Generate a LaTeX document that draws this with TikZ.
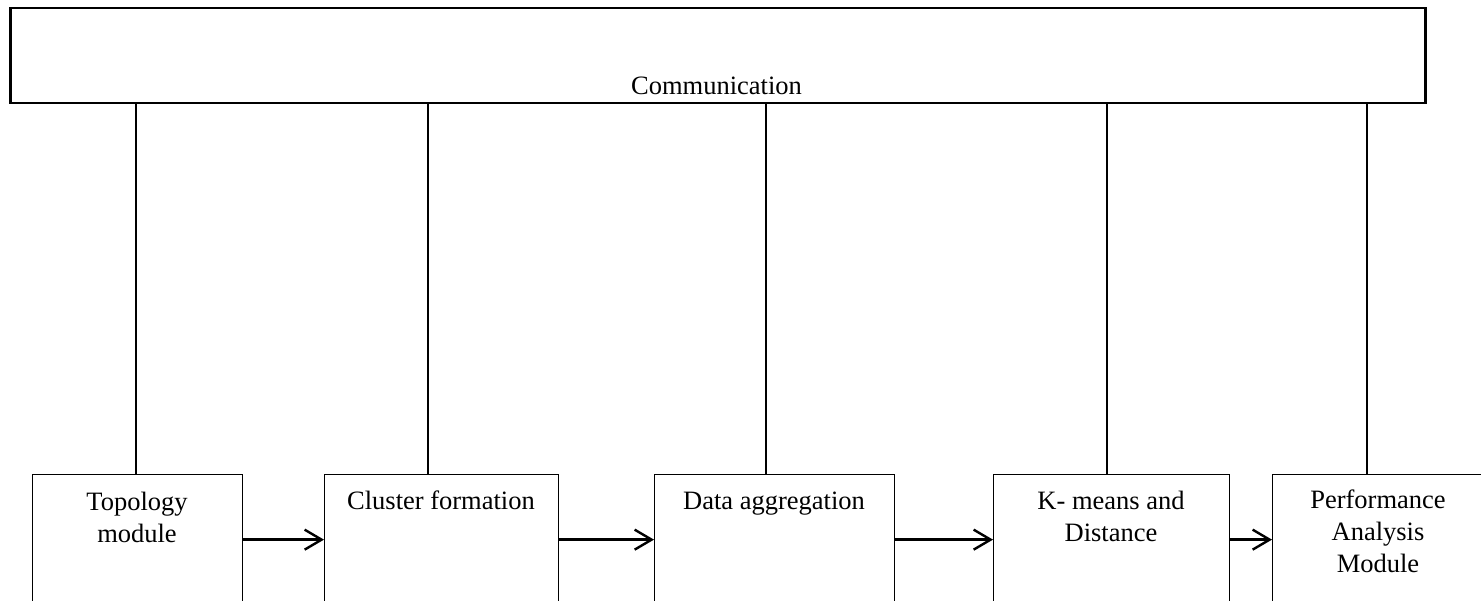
\documentclass[tikz,border=0pt]{standalone}
\usepackage{fontspec}
\setmainfont{Liberation Serif}
\usetikzlibrary{arrows.meta}
\tikzset{
  topbox/.style={draw, line width=2.5pt, anchor=north west, inner sep=0pt},
  mod/.style={draw, line width=1.3pt, minimum height=130pt, anchor=north west, inner sep=0pt},
  lbl/.style={font=\fontsize{26.5}{32}\selectfont, align=center, inner sep=0pt, anchor=base},
  link/.style={line width=1.5pt},
  flow/.style={line width=2.4pt, -{Straight Barb[length=17pt,width=20pt]}},
}
\begin{document}
\begin{tikzpicture}[x=1pt,y=-1pt]
\useasboundingbox (0,0) rectangle (1481,601);
\clip (0,0) rectangle (1481,601);
% top communication box
\node[topbox, minimum width=1415pt, minimum height=95pt] (comm) at (9,7) {};
\node[lbl] (commt) at (716.5,95) {Communication};
% module boxes
\node[mod, minimum width=210pt] (b1) at (32,474) {};
\node[mod, minimum width=234pt] (b2) at (324,474) {};
\node[mod, minimum width=240pt] (b3) at (654,474) {};
\node[mod, minimum width=236pt] (b4) at (993,474) {};
\node[mod, minimum width=212pt] (b5) at (1272,474) {};
% labels (anchored at the baseline of their last line)
\node[lbl] (t1) at (137,542) {Topology\\module};
\node[lbl] (t2) at (441,509) {Cluster formation};
\node[lbl] (t3) at (774,509) {Data aggregation};
\node[lbl] (t4) at (1111,541) {K- means and\\Distance};
\node[lbl] (t5) at (1378,572) {Performance\\Analysis\\Module};
% vertical links
\draw[link] (b1.north -| 136,0) -- (comm.south -| 136,0);
\draw[link] (b2.north -| 428,0) -- (comm.south -| 428,0);
\draw[link] (b3.north -| 766,0) -- (comm.south -| 766,0);
\draw[link] (b4.north -| 1107,0) -- (comm.south -| 1107,0);
\draw[link] (b5.north -| 1367,0) -- (comm.south -| 1367,0);
% flow arrows
\draw[flow] (b1.east) -- (b2.west);
\draw[flow] (b2.east) -- (b3.west);
\draw[flow] (b3.east) -- (b4.west);
\draw[flow] (b4.east) -- (b5.west);
\end{tikzpicture}
\end{document}
